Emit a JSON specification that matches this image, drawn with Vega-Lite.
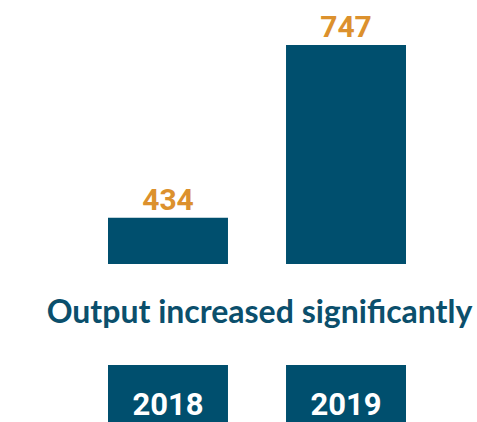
{
  "$schema": "https://vega.github.io/schema/vega-lite/v6.json",
  "padding": 0,
  "spacing": 33,
  "config": {"view": {"stroke": null}},
  "data": {"values": [
    {"year": "2018", "value": 434},
    {"year": "2019", "value": 747}
  ]},
  "vconcat": [
    {
      "width": 477,
      "height": 264,
      "encoding": {
        "x": {"field": "year", "type": "nominal", "axis": null,
              "scale": {"range": [108, 406], "paddingInner": 0.326, "paddingOuter": 0}}
      },
      "layer": [
        {
          "mark": {"type": "bar", "color": "#004f6e", "clip": true},
          "encoding": {
            "y": {"field": "value", "type": "quantitative", "axis": null,
                  "scale": {"domain": [350, 828.6], "zero": false, "nice": false}},
            "y2": {"datum": 350}
          }
        },
        {
          "mark": {"type": "text", "color": "#dc912d", "font": "Roboto", "fontWeight": "bold",
                   "fontSize": 30, "baseline": "alphabetic", "dy": -8},
          "encoding": {
            "y": {"field": "value", "type": "quantitative"},
            "text": {"field": "value", "type": "quantitative"}
          }
        }
      ]
    },
    {
      "width": 477,
      "height": 80,
      "title": {"text": "Output increased significantly", "font": "Lato", "fontSize": 32,
                "fontWeight": "bold", "color": "#0b4f6c", "anchor": "middle", "dx": 21, "offset": 35},
      "encoding": {
        "x": {"field": "year", "type": "nominal", "axis": null,
              "scale": {"range": [108, 406], "paddingInner": 0.326, "paddingOuter": 0}}
      },
      "layer": [
        {"mark": {"type": "bar", "color": "#004f6e"}},
        {
          "mark": {"type": "text", "color": "white", "font": "Roboto", "fontWeight": "bold",
                   "fontSize": 31, "baseline": "middle", "dy": 1},
          "encoding": {"text": {"field": "year", "type": "nominal"}}
        }
      ]
    }
  ]
}
